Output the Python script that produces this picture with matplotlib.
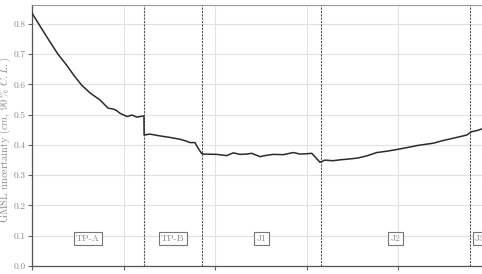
import matplotlib
matplotlib.use('Agg')
import matplotlib.pyplot as plt
import numpy as np

plt.rcParams['font.family'] = 'serif'
plt.rcParams['font.serif'] = ['cmr10', 'DejaVu Serif']
plt.rcParams['mathtext.fontset'] = 'cm'
plt.rcParams['axes.formatter.use_mathtext'] = True

# GMSL uncertainty (decimal year, cm)
years = [1993.00, 1993.44, 1993.98, 1994.42, 1994.89, 1995.29, 1995.71, 1996.17,
         1996.71, 1997.15, 1997.42, 1997.59, 1997.80, 1998.19, 1998.46, 1998.73,
         1999.06, 1999.11,
         1999.12, 1999.44, 1999.71, 1999.99, 2000.53, 2001.08, 2001.41, 2001.62,
         2001.90, 2002.06, 2002.26,
         2002.35, 2003.08, 2003.63, 2003.99, 2004.35, 2004.72, 2004.99, 2005.45,
         2005.81, 2006.17, 2006.72, 2007.26, 2007.63, 2007.99, 2008.27, 2008.72,
         2008.99, 2009.43, 2009.81, 2010.36, 2010.79, 2011.27, 2011.82, 2012.43,
         2013.09, 2013.52, 2014.00, 2014.45, 2014.91, 2015.33, 2015.82, 2016.25,
         2016.73, 2017.00, 2017.24, 2017.56, 2018.00]
uncert = [0.836, 0.793, 0.741, 0.700, 0.664, 0.630, 0.598, 0.572,
          0.549, 0.522, 0.519, 0.515, 0.505, 0.494, 0.499, 0.492,
          0.496, 0.494,
          0.433, 0.436, 0.433, 0.430, 0.425, 0.419, 0.413, 0.408,
          0.408, 0.390, 0.372,
          0.370, 0.369, 0.365, 0.374, 0.369, 0.370, 0.3725, 0.3615,
          0.366, 0.369, 0.368, 0.375, 0.370, 0.371, 0.3725, 0.343,
          0.350, 0.348, 0.351, 0.354, 0.357, 0.364, 0.375, 0.380,
          0.387, 0.392, 0.398, 0.402, 0.406, 0.413, 0.420, 0.426,
          0.433, 0.444, 0.447, 0.453, 0.460]

missions = ['TP-A', 'TP-B', 'J1', 'J2', 'J3']
mission_start = [1993.0, 1999.11, 2002.28, 2008.77, 2016.91]
mission_end = [1999.11, 2002.28, 2008.77, 2016.91, 2018.0]

gray_txt = '#8a8a8a'

fig = plt.figure(figsize=(4.82, 2.74), dpi=100)
ax = fig.add_axes([32 / 482, 8 / 274, 458 / 482, 261 / 274])

ax.plot(years, uncert, color='#2b2b2b', lw=1.1, zorder=3)

for s in mission_start[1:]:
    ax.axvline(s, color='#555555', lw=0.8, ls=(0, (2, 1)), zorder=2)

for name, a, b in zip(missions, mission_start, mission_end):
    ax.text((a + b) / 2, 0.09, name, ha='center', va='center', fontsize=7,
            color=gray_txt,
            bbox=dict(boxstyle='square,pad=0.25', fc='white', ec='#777777', lw=0.8))

ax.set_xlim(1993, 2018)
ax.set_ylim(0, 0.8628)
ax.set_xticks([1993, 1998, 2003, 2008, 2013, 2018])
ax.set_xticklabels([])
ax.set_yticks(np.arange(0, 0.81, 0.1))
ax.set_yticklabels(['0.0', '0.1', '0.2', '0.3', '0.4', '0.5', '0.6', '0.7', '0.8'])
ax.grid(True, color='#e2e2e2', lw=0.8, zorder=0)
ax.set_axisbelow(True)

ax.tick_params(axis='y', labelsize=6.8, colors='#666666', labelcolor=gray_txt, length=3, width=0.8, pad=1.8)
ax.tick_params(axis='x', length=3, width=0.8, colors='#666666')
for sp in ['left', 'bottom']:
    ax.spines[sp].set_color('#555555')
    ax.spines[sp].set_linewidth(0.9)
for sp in ['top', 'right']:
    ax.spines[sp].set_color('#999999')
    ax.spines[sp].set_linewidth(0.8)

ax.set_ylabel(r'GMSL uncertainty ($cm$, $90\,\%$ $C.L.$)', fontsize=7.5, color=gray_txt)
ax.yaxis.set_label_coords(-0.041, 0.485)

fig.savefig('out.png', dpi=100)
